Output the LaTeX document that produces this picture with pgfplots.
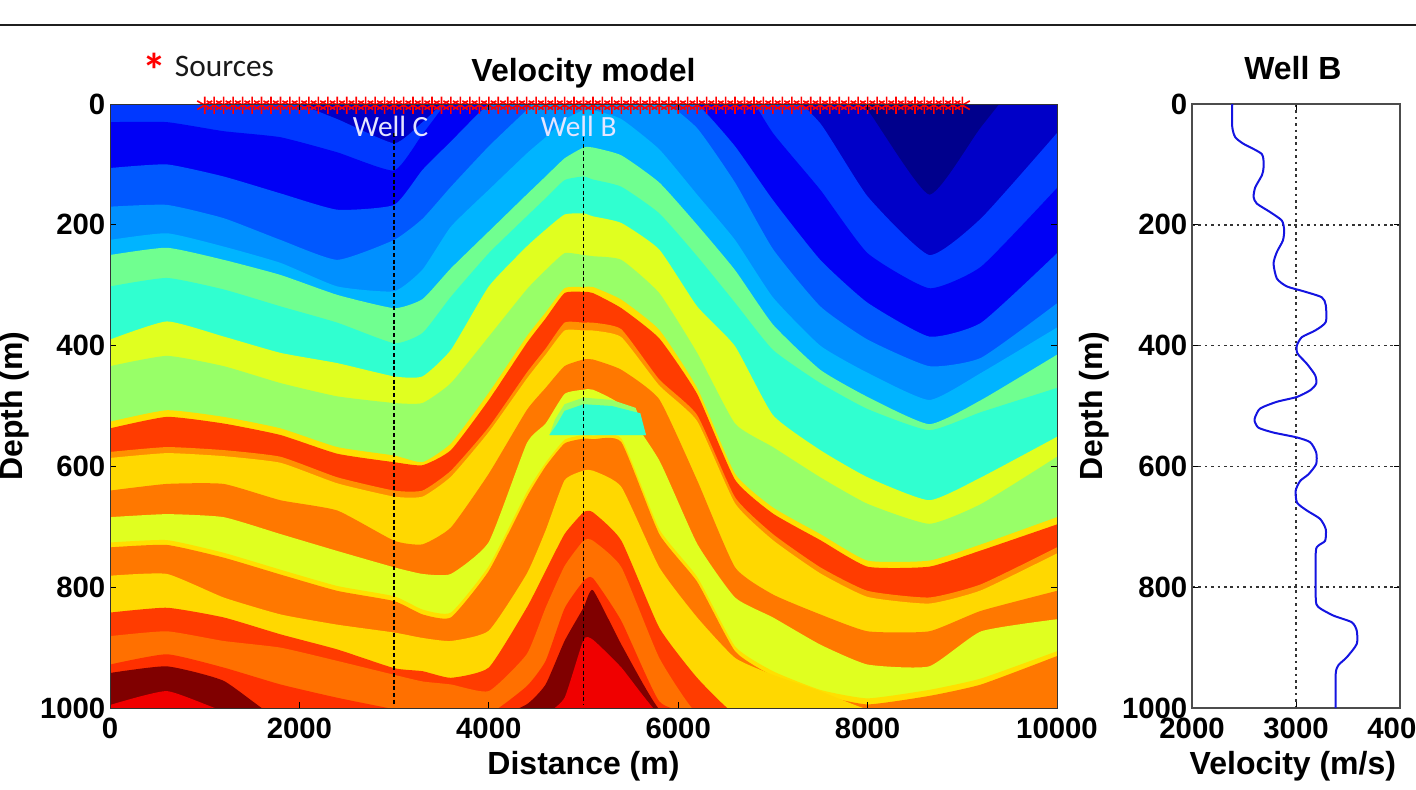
\documentclass[border=0pt]{standalone}
\usepackage{pgfplots}
\usepackage{pgfplotstable}
\pgfplotsset{compat=1.18}
\usepackage{fontspec}
\setmainfont{Liberation Sans}
\newfontfamily\crl{Carlito}
\definecolor{L0}{HTML}{00008C}
\definecolor{L1}{HTML}{0000C8}
\definecolor{L2}{HTML}{0038FF}
\definecolor{L3}{HTML}{0000F5}
\definecolor{L4}{HTML}{0058FF}
\definecolor{L5}{HTML}{0090FF}
\definecolor{L6}{HTML}{00B4FF}
\definecolor{L7}{HTML}{70FF90}
\definecolor{L8}{HTML}{30FFD0}
\definecolor{YG}{HTML}{E0FF20}
\definecolor{GR}{HTML}{98FF68}
\definecolor{YE}{HTML}{FFE000}
\definecolor{YD}{HTML}{FFD800}
\definecolor{RO}{HTML}{FF3C00}
\definecolor{OL}{HTML}{FF9000}
\definecolor{OR}{HTML}{FF7800}
\definecolor{O2}{HTML}{FF7000}
\definecolor{R2}{HTML}{FF3000}
\definecolor{DK}{HTML}{800000}
\definecolor{RD}{HTML}{F00000}
\definecolor{LN}{HTML}{1414E1}
\pgfplotstableread{
name s1 s2 s3 s4 s5 s6 s7 s8 s9 s10 s11 s12 s13 s14 s15 s16 s17 s18 s19 s20 s21 s22 s23 s24
xx 0 600 1200 1800 2400 3000 3300 3600 4000 4400 4600 4800 5000 5100 5400 5800 6200 6600 7000 7500 8000 8650 9200 10000
b0 -100 -100 -100 -100 -100 -100 -100 -100 -100 -100 -100 -100 -100 -100 -100 -100 -100 -100 -100 -100 -100 -100 -100 -100
b1 -50 -50 -50 -50 -50 -50 -50 -50 -50 -50 -50 -50 -50 -50 -50 -50 -50 -50 -50 -80 10 150 38 -120
b2 -10 -10 -10 -10 25 65 30 -10 -10 -10 -10 -10 -10 -10 -10 -10 -30 -30 -41 32 153 250 189 48
b3 30 30 45 55 80 110 50 -10 -50 -50 -50 -50 -50 -50 -50 -50 -50 -48 48 142 247 305 269 139
b4 106 100 120 148 175 167 109 62 0 -30 -30 -30 -30 -30 -30 -30 0 70 159 258 329 385 362 247
b5 170 167 189 225 258 225 190 137 70 10 -20 -20 -20 -20 -20 -10 40 130 240 335 390 434 420 330
b6 225 214 236 263 302 310 274 203 142 82 55 26 10 10 25 75 150 225 320 400 445 490 445 370
b7 250 238 258 283 316 338 323 272 211 150 120 90 72 72 85 130 200 275 365 440 485 530 490 415
b8 302 288 307 335 362 396 379 319 247 186 156 126 120 125 137 181 252 329 407 462 505 540 510 470
b9 390 360 385 412 429 451 451 407 302 236 208 183 181 186 197 241 335 401 515 573 618 656 618 551
b10 434 417 434 462 484 495 495 462 385 307 275 247 250 252 258 313 412 529 568 618 662 695 662 584
b11 526 507 518 537 568 582 593 562 478 385 345 305 303 303 324 374 470 612 668 712 756 756 729 684
b12 537 518 529 548 579 593 598 573 490 396 355 313 311 313 338 388 480 622 678 722 766 766 739 696
b13 576 568 573 584 618 640 640 607 535 445 405 362 362 362 373 456 515 651 712 767 806 817 795 734
b14 586 578 583 594 628 650 650 617 543 455 415 375 375 375 386 466 525 661 722 777 816 827 805 744
b15 640 629 629 656 673 723 729 701 612 507 470 434 423 423 440 489 623 767 812 845 873 873 839 806
b16 684 679 684 712 740 767 778 778 725 562 529 480 473 473 499 590 728 817 850 895 928 931 873 853
c16 726 722 743 771 798 815 837 842 765 643 594 556 548 549 554 704 783 898 939 970 984 970 951 906
b17 734 730 751 779 806 823 845 850 773 651 600 562 554 555 560 712 791 906 947 978 994 980 961 914
b18 781 778 817 845 862 875 884 889 872 778 706 623 607 607 634 767 850 917 945 972 1002 1010 1010 1010
b19 842 834 850 878 903 934 939 950 933 834 773 712 676 676 723 867 950 1010 1010 1010 1010 1010 1010 1010
b20 881 873 889 900 922 945 956 961 972 911 834 765 723 723 767 917 1010 1010 1010 1010 1010 1010 1010 1010
b21 928 911 933 961 983 1002 1010 1010 1010 964 922 835 790 785 856 989 1010 1010 1010 1010 1010 1010 1010 1010
b22 942 931 955 1020 1020 1020 1020 1020 1020 994 961 889 834 805 895 1002 1010 1010 1010 1010 1010 1010 1010 1010
b23 995 972 1005 1020 1020 1020 1020 1020 1020 1010 1010 983 887 887 933 1010 1010 1010 1010 1010 1010 1010 1010 1010
}\rawbands
\pgfplotstabletranspose[colnames from=name,input colnames to=src]\bands\rawbands
\newcommand\band[2]{\addplot[fill=#1,draw=none,forget plot,mark=none,smooth,tension=0.3] table[x=xx,y=#2] {\bands} -- (axis cs:10000,1030) -- (axis cs:0,1030) -- cycle;}
\pgfplotsset{common/.style={
  scale only axis, y dir=reverse, ymin=0, ymax=1000, height=453pt, anchor=north west,
  ytick={0,200,400,600,800,1000},
  /pgf/number format/assume math mode=true,
  /pgf/number format/1000 sep={},
  scaled ticks=false,
  tick label style={font=\fontsize{22}{24}\selectfont\bfseries},
  label style={font=\fontsize{24}{26}\selectfont\bfseries},
  title style={font=\fontsize{24}{26}\selectfont\bfseries,yshift=-9pt},
  major tick length=4.5pt,
  tick style={black,line width=0.6pt},
  xticklabel style={yshift=-4pt},
}}
\begin{document}
\begin{tikzpicture}
\path[use as bounding box] (0,0) rectangle (1062pt,-591.75pt);
\draw[line width=2pt,black!88] (0,-18.75pt) -- (1062pt,-18.75pt);
\begin{axis}[common, at={(82.5pt,-78pt)}, width=710.25pt,
  xmin=0, xmax=10000, xtick={0,2000,4000,6000,8000,10000},
  axis on top, clip mode=individual,
  axis line style={black!80,line width=0.6pt},
  xlabel={Distance (m)}, ylabel={Depth (m)}, title={Velocity model},
  xlabel style={at={(axis description cs:0.5,-0.097)},anchor=center},
  ylabel style={at={(axis description cs:-0.101,0.5)},anchor=center},
  title style={at={(axis description cs:0.5,1.058)},anchor=center},
]
\band{L0}{b0}
\band{L1}{b1}
\band{L2}{b2}
\band{L3}{b3}
\band{L4}{b4}
\band{L5}{b5}
\band{L6}{b6}
\band{L7}{b7}
\band{L8}{b8}
\band{YG}{b9}
\band{GR}{b10}
\band{YE}{b11}
\band{RO}{b12}
\band{OL}{b13}
\band{YD}{b14}
\band{OR}{b15}
\band{YG}{b16}
\band{YE}{c16}
\band{OR}{b17}
\band{YD}{b18}
\band{RO}{b19}
\band{O2}{b20}
\band{R2}{b21}
\band{DK}{b22}
\band{RD}{b23}
\addplot[fill=GR,draw=none,forget plot,mark=none] coordinates {(4640,548)(4700,522)(4800,497)(5000,486)(5300,490)(5550,503)(5660,548)};
\addplot[fill=L8,draw=none,forget plot,mark=none] coordinates {(4640,548)(4720,530)(4800,508)(5000,497)(5300,500)(5600,512)(5660,548)};
\addplot[black,densely dashed,line width=1.2pt,forget plot,mark=none] coordinates {(3000,48)(3000,995)};
\addplot[black,densely dashed,line width=1.2pt,forget plot,mark=none] coordinates {(5000,55)(5000,995)};
\addplot[red,only marks,mark=asterisk,mark size=6.5pt,line width=1.2pt,mark options={solid}] coordinates {
(1000,2)(1100,2)(1200,2)(1300,2)(1400,2)(1500,2)(1600,2)(1700,2)(1800,2)(1900,2)
(2000,2)(2100,2)(2200,2)(2300,2)(2400,2)(2500,2)(2600,2)(2700,2)(2800,2)(2900,2)
(3000,2)(3100,2)(3200,2)(3300,2)(3400,2)(3500,2)(3600,2)(3700,2)(3800,2)(3900,2)
(4000,2)(4100,2)(4200,2)(4300,2)(4400,2)(4500,2)(4600,2)(4700,2)(4800,2)(4900,2)
(5000,2)(5100,2)(5200,2)(5300,2)(5400,2)(5500,2)(5600,2)(5700,2)(5800,2)(5900,2)
(6000,2)(6100,2)(6200,2)(6300,2)(6400,2)(6500,2)(6600,2)(6700,2)(6800,2)(6900,2)
(7000,2)(7100,2)(7200,2)(7300,2)(7400,2)(7500,2)(7600,2)(7700,2)(7800,2)(7900,2)
(8000,2)(8100,2)(8200,2)(8300,2)(8400,2)(8500,2)(8600,2)(8700,2)(8800,2)(8900,2)(9000,2)};
\end{axis}
\begin{axis}[common, at={(894pt,-78pt)}, width=156pt,
  xmin=2000, xmax=4000, xtick={2000,3000,4000},
  grid=major, grid style={black!80,dash pattern=on 2pt off 2.8pt,line width=1.1pt},
  axis line style={black!70,line width=0.8pt},
  xlabel={Velocity (m/s)}, ylabel={Depth (m)}, title={Well B},
  xlabel style={at={(axis description cs:0.485,-0.097)},anchor=center},
  ylabel style={at={(axis description cs:-0.471,0.5)},anchor=center},
  title style={at={(axis description cs:0.485,1.066)},anchor=center},
]
\addplot[color=LN,line width=1.5pt,mark=none,smooth,tension=0.4] coordinates {
(2387,0)(2387,38)(2416,55)(2496,66)(2672,83)(2688,105)(2672,118)(2608,138)(2592,154)(2624,165)
(2752,179)(2864,193)(2886,209)(2874,226)(2816,245)(2784,264)(2816,289)(2912,302)(3072,310)(3248,320)
(3286,333)(3286,361)(3184,375)(3056,386)(3008,400)(3014,413)(3104,430)(3184,449)(3194,463)(3136,474)
(3008,485)(2816,493)(2656,504)(2608,518)(2602,525)(2640,536)(2784,544)(3008,552)(3136,560)(3194,577)
(3194,596)(3120,613)(3040,624)(2997,640)(3010,660)(3104,673)(3232,687)(3286,704)(3280,723)(3216,731)
(3190,742)(3190,819)(3216,833)(3360,847)(3536,858)(3584,872)(3584,894)(3488,916)(3408,929)(3382,943)(3382,1000)};
\end{axis}
\node[anchor=center,text=red,font=\crl\fontsize{36}{36}\selectfont\bfseries] at (116pt,-53pt) {*};
\node[anchor=west,text=black!90,font=\crl\fontsize{23.5}{26}\selectfont,inner sep=0pt] at (131pt,-50pt) {Sources};
\node[anchor=center,text=white!90!blue,font=\crl\fontsize{22}{24}\selectfont] at (293pt,-95pt) {Well C};
\node[anchor=center,text=white!90!blue,font=\crl\fontsize{22}{24}\selectfont] at (434pt,-95pt) {Well B};
\end{tikzpicture}
\end{document}
